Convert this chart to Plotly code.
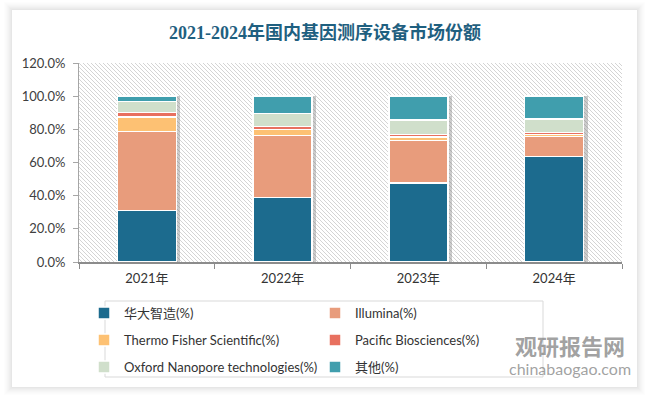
import base64
import plotly.graph_objects as go

years = ["2021年", "2022年", "2023年", "2024年"]
huada = [31.2, 39.0, 47.5, 63.7]
illumina = [47.4, 37.4, 25.9, 12.1]
thermo = [8.7, 3.6, 2.0, 1.2]
pacific = [3.0, 1.6, 1.6, 1.2]
oxford = [6.4, 8.1, 8.5, 7.9]
others = [3.3, 10.3, 14.5, 13.9]

names = ["华大智造(%)", "Illumina(%)", "Thermo Fisher Scientific(%)",
         "Pacific Biosciences(%)", "Oxford Nanopore technologies(%)", "其他(%)"]
series = [huada, illumina, thermo, pacific, oxford, others]
colors = ["#1c6b8e", "#e89c7c", "#fdc173", "#e8705f", "#d0dfcb", "#409ead"]
legend_ids = ["legend", "legend", "legend2", "legend2", "legend3", "legend3"]

W, H = 646, 397
L, R, T, B = 79, 24, 63, 135
PW, PH = W - L - R, H - T - B


def px(xp):
    return (xp - L) / PW


def py(yp):
    return (H - B - yp) / PH


totals = [sum(v) for v in zip(*series)]

fig = go.Figure()

# soft shadow behind the bars (base axis, shifted right a little)
fig.add_trace(go.Bar(x=years, y=totals, xaxis="x", yaxis="y", width=0.434,
                     marker=dict(color="rgba(110,110,110,0.35)", line=dict(width=0)),
                     showlegend=False, hoverinfo="skip"))

for n, v, c, lg in zip(names, series, colors, legend_ids):
    fig.add_trace(go.Bar(x=years, y=v, name=n, xaxis="x2", yaxis="y",
                         width=0.434, legend=lg,
                         marker=dict(color=c, line=dict(color="white", width=1.5))))

# hatch pattern background for the plot area
svg = (f'<svg xmlns="http://www.w3.org/2000/svg" width="{PW}" height="{PH}">'
       '<defs><pattern id="p" width="4" height="4" patternUnits="userSpaceOnUse">'
       '<path d="M-1,-1 l6,6 M-1,3 l2,2 M3,-1 l2,2" stroke="#d4d4d4" stroke-width="1"/>'
       '</pattern></defs>'
       f'<rect width="{PW}" height="{PH}" fill="white"/>'
       f'<rect width="{PW}" height="{PH}" fill="url(#p)"/></svg>')
uri = "data:image/svg+xml;base64," + base64.b64encode(svg.encode()).decode()

shapes = []
# card shadow drawn as outlines around the white card
for k, a in [(1, 0.16), (2, 0.13), (3, 0.10), (4, 0.08), (5, 0.06), (6, 0.04), (7, 0.025), (8, 0.015)]:
    shapes.append(dict(type="rect", xref="paper", yref="paper",
                       x0=px(12 - k + 0.5), x1=px(637 + k - 0.5),
                       y0=py(387 + k - 0.5), y1=py(10 - k + 0.5),
                       fillcolor="rgba(0,0,0,0)",
                       line=dict(color=f"rgba(100,100,100,{a})", width=1), layer="below"))
# legend box
shapes.append(dict(type="rect", xref="paper", yref="paper",
                   x0=px(105), x1=px(543), y0=py(377), y1=py(301),
                   fillcolor="rgba(0,0,0,0)", line=dict(color="#d9d9d9", width=1), layer="above"))

legfont = dict(family="Lato, Noto Sans CJK SC", size=13, color="#333333")


def leg(yrow):
    return dict(orientation="h", x=px(84), xanchor="left", y=py(yrow), yanchor="middle",
                entrywidth=186, bgcolor="rgba(0,0,0,0)", borderwidth=0,
                traceorder="normal", font=legfont)


d = 4 / 136
fig.update_layout(
    width=W, height=H,
    margin=dict(l=L, r=R, t=T, b=B, autoexpand=False),
    paper_bgcolor="white",
    plot_bgcolor="rgba(0,0,0,0)",
    barmode="stack",
    shapes=shapes,
    images=[dict(source=uri, xref="paper", yref="paper", x=0, y=1,
                 sizex=1, sizey=1, sizing="stretch", layer="below",
                 xanchor="left", yanchor="top")],
    title=dict(text="<b>2021-2024年国内基因测序设备市场份额</b>", x=325 / W, xanchor="center",
               y=1 - 33 / H, yanchor="middle", xref="container", yref="container",
               font=dict(family="Liberation Serif, Noto Sans CJK SC", size=18, color="#1f6080")),
    xaxis=dict(type="category", range=[-0.5 - d, 3.5 - d], showticklabels=False,
               showline=False, showgrid=False, ticks="", zeroline=False),
    xaxis2=dict(type="category", overlaying="x", side="bottom", range=[-0.5, 3.5],
                showline=True, linecolor="#8c8c8c", linewidth=1.5,
                ticks="outside", tickson="boundaries", ticklen=5, tickcolor="#8c8c8c",
                showgrid=False, ticklabelstandoff=4,
                tickfont=dict(family="Lato, Noto Sans CJK SC", size=13, color="#333333")),
    yaxis=dict(range=[0, 120], dtick=20, tickformat=".1f", ticksuffix="%",
               showline=True, linecolor="#a6a6a6", linewidth=1,
               ticks="outside", ticklen=5, tickcolor="#a6a6a6", showgrid=False,
               zeroline=False, ticklabelstandoff=5,
               tickfont=dict(family="Lato", size=13, color="#404040")),
    legend=leg(313),
    legend2=leg(340),
    legend3=leg(367),
    annotations=[
        dict(text="<b>观研报告网</b>", xref="paper", yref="paper", x=px(570), y=py(345),
             xanchor="center", yanchor="middle",
             showarrow=False, font=dict(family="Noto Sans CJK SC", size=22, color="rgba(120,120,120,0.7)")),
        dict(text="chinabaogao.com", xref="paper", yref="paper", x=px(570), y=py(368),
             xanchor="center", yanchor="middle",
             showarrow=False, font=dict(family="Lato", size=16, color="rgba(120,120,120,0.7)")),
    ],
)

fig.write_html("out.html", config={"displayModeBar": False},
               post_script="document.body.style.margin='0';")
